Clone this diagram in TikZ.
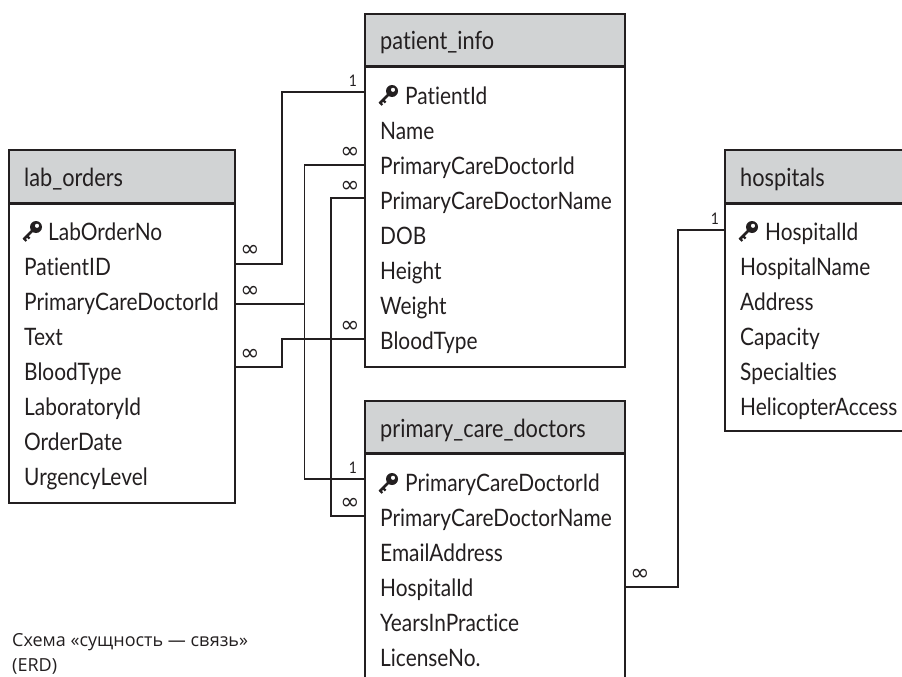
\documentclass[tikz,border=0pt]{standalone}
\usepackage{fontspec}
\setmainfont{Open Sans}
\newfontfamily\rowfont[FakeStretch=0.87,Ligatures=NoCommon]{Lato}
\newfontfamily\capfont{Open Sans}
\newfontfamily\symfont{DejaVu Sans}
\definecolor{hdr}{RGB}{209,211,212}
\definecolor{ink}{RGB}{35,31,32}
\tikzset{
 tbl/.style={draw=ink,line width=1.5pt,fill=white,inner sep=0pt,outer sep=0pt,anchor=north west},
 hdrbox/.style={draw=ink,line width=1.5pt,fill=hdr,inner sep=0pt,outer sep=0pt,anchor=north west},
 hline/.style={draw=ink,line width=3pt},
 row/.style={anchor=base west,inner sep=0pt,text=ink,font=\rowfont\fontsize{24}{24}\selectfont},
 tabletitle/.style={anchor=base west,inner sep=0pt,text=ink,font=\rowfont\fontsize{25}{25}\selectfont},
 link/.style={draw=ink,line width=1.5pt},
 inf/.style={anchor=center,inner sep=0pt,text=ink,font=\symfont\fontsize{23}{23}\selectfont},
 one/.style={anchor=center,inner sep=0pt,text=ink,font=\rowfont\fontsize{16}{16}\selectfont},
 capnote/.style={anchor=base west,inner sep=0pt,text=ink,font=\capfont\fontsize{18}{18}\selectfont},
 keyicon/.pic={
  \fill[ink,even odd rule] (4,-4) circle (6) (5,-5.2) circle (2.2);
  \draw[ink,line width=2.6pt] (1,-1) -- (-8.4,8.4);
  \draw[ink,line width=2.2pt] (-5,5) -- (-2.4,7.6) (-8,7.6) -- (-5.6,10);
 }
}
\begin{document}
\begin{tikzpicture}[x=1pt,y=-1pt]
\useasboundingbox (0,0) rectangle (902,677);
\clip (0,0) rectangle (902,677);
% tables
\node[tbl,minimum width=260pt,minimum height=353pt] (patient) at (365,14) {};
\node[hdrbox,minimum width=260pt,minimum height=53pt] (patienthead) at (365,14) {};
\draw[hline] (patienthead.south west) -- (patienthead.south east);
\node[tbl,minimum width=226pt,minimum height=353pt] (lab) at (9,150) {};
\node[hdrbox,minimum width=226pt,minimum height=53pt] (labhead) at (9,150) {};
\draw[hline] (labhead.south west) -- (labhead.south east);
\node[tbl,minimum width=190pt,minimum height=281pt] (hosp) at (725,150) {};
\node[hdrbox,minimum width=190pt,minimum height=53pt] (hosphead) at (725,150) {};
\draw[hline] (hosphead.south west) -- (hosphead.south east);
\node[tbl,minimum width=260pt,minimum height=300pt] (pcd) at (365,401) {};
\node[hdrbox,minimum width=260pt,minimum height=52pt] (pcdhead) at (365,401) {};
\draw[hline] (pcdhead.south west) -- (pcdhead.south east);
% ports
\coordinate (labA) at (234,264);
\coordinate (labB) at (234,304);
\coordinate (labC) at (234,367);
\coordinate (patA) at (365,92);
\coordinate (patB) at (365,165);
\coordinate (patC) at (365,198);
\coordinate (patD) at (365,339);
\coordinate (pcdA) at (365,479);
\coordinate (pcdB) at (365,516);
\coordinate (pcdC) at (625,587);
\coordinate (hospA) at (725,230);
% connectors
\draw[link] (labA) -- (282,264) -- (282,92) -- (patA);
\draw[link] (labB) -- (304.5,304);
\draw[link] (patB) -- (304.5,165) -- (304.5,479) -- (pcdA);
\draw[link] (patC) -- (331,198) -- (331,516) -- (pcdB);
\draw[link] (labC) -- (282,367) -- (282,339) -- (patD);
\draw[link] (pcdC) -- (678,587) -- (678,230) -- (hospA);
% titles
\node[tabletitle] (t1) at (380,50) {patient\_info};
\node[tabletitle] (t2) at (24,186) {lab\_orders};
\node[tabletitle] (t3) at (740,186) {hospitals};
\node[tabletitle] (t4) at (380,437) {primary\_care\_doctors};
% patient rows
\pic at (388,95) {keyicon};
\node[row] (p1) at (405,104) {PatientId};
\node[row] (p2) at (380,139) {Name};
\node[row] (p3) at (380,174) {PrimaryCareDoctorId};
\node[row] (p4) at (380,209) {PrimaryCareDoctorName};
\node[row] (p5) at (380,244) {DOB};
\node[row] (p6) at (380,279) {Height};
\node[row] (p7) at (380,314) {Weight};
\node[row] (p8) at (380,349) {BloodType};
% lab rows
\pic at (32,231) {keyicon};
\node[row] (l1) at (48,240) {LabOrderNo};
\node[row] (l2) at (24,275) {PatientID};
\node[row] (l3) at (24,310) {PrimaryCareDoctorId};
\node[row] (l4) at (24,345) {Text};
\node[row] (l5) at (24,380) {BloodType};
\node[row] (l6) at (24,415) {LaboratoryId};
\node[row] (l7) at (24,450) {OrderDate};
\node[row] (l8) at (24,485) {UrgencyLevel};
% hospital rows
\pic at (748,231) {keyicon};
\node[row] (h1) at (765,240) {HospitalId};
\node[row] (h2) at (740,275) {HospitalName};
\node[row] (h3) at (740,310) {Address};
\node[row] (h4) at (740,345) {Capacity};
\node[row] (h5) at (740,380) {Specialties};
\node[row] (h6) at (740,415) {HelicopterAccess};
% doctor rows
\pic at (388,483) {keyicon};
\node[row] (d1) at (405,491) {PrimaryCareDoctorId};
\node[row] (d2) at (380,526) {PrimaryCareDoctorName};
\node[row] (d3) at (380,561) {EmailAddress};
\node[row] (d4) at (380,596) {HospitalId};
\node[row] (d5) at (380,631) {YearsInPractice};
\node[row] (d6) at (380,666) {LicenseNo.};
% cardinalities
\node[one] (c1) at (353,81) {1};
\node[inf] (c2) at (350,153) {∞};
\node[inf] (c3) at (350,187) {∞};
\node[inf] (c4) at (350,327) {∞};
\node[one] (c5) at (353,468) {1};
\node[inf] (c6) at (350,504) {∞};
\node[inf] (c7) at (250,251) {∞};
\node[inf] (c8) at (250,292) {∞};
\node[inf] (c9) at (250,355) {∞};
\node[one] (c10) at (715,219) {1};
\node[inf] (c11) at (640,575) {∞};
% caption
\node[capnote] (cap1) at (12,646) {Схема «сущность — связь»};
\node[capnote] (cap2) at (12,671) {(ERD)};
\end{tikzpicture}
\end{document}
